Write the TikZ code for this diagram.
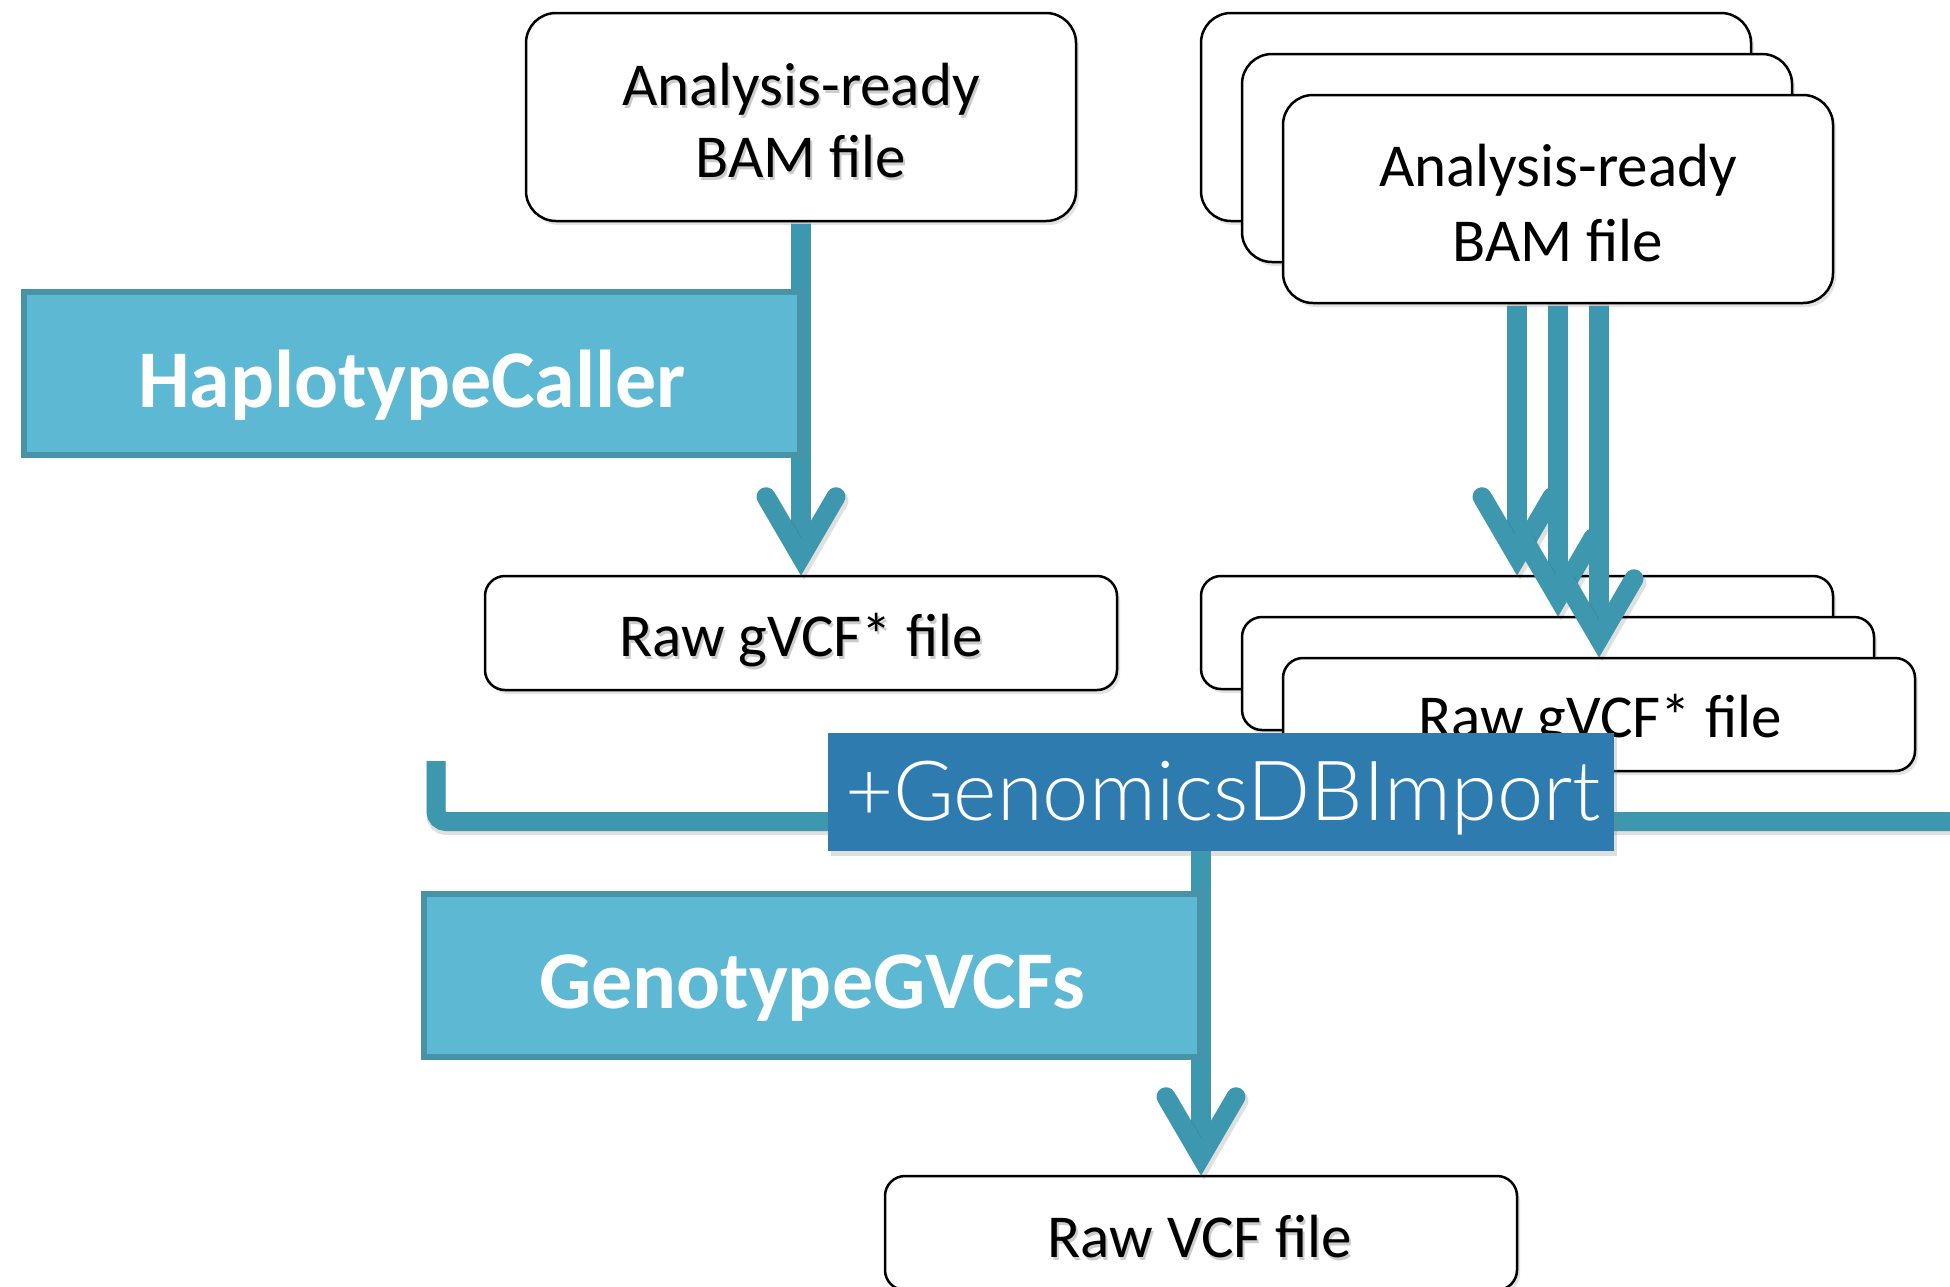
\documentclass[tikz,border=0pt]{standalone}
\usepackage{fontspec}
\setmainfont{Carlito}
\newfontfamily\gdbfont{Lato Light}
\usetikzlibrary{shadows,calc}
\definecolor{arrowc}{HTML}{3D97AE}
\definecolor{procfill}{HTML}{5CB8D3}
\definecolor{procline}{HTML}{4893A8}
\definecolor{gdbfill}{HTML}{2E7BB0}
\tikzset{
  filebox/.style={draw=black, line width=2.5pt, fill=white, rounded corners=#1, inner sep=0pt,
    drop shadow={opacity=0.22, shadow xshift=3pt, shadow yshift=-4pt}},
  filebox/.default=20pt,
  ftext/.style={font=\fontsize{61}{73}\selectfont, inner sep=0pt},
  procbox/.style={draw=procline, fill=procfill, line width=6pt, inner sep=0pt,
    minimum width=776pt, minimum height=163pt},
  proctext/.style={font=\bfseries\fontsize{82}{98}\selectfont, text=white, inner sep=0pt},
  shaft/.style={draw=arrowc, line width=20pt},
  shaftsh/.style={draw=black, line width=20pt, opacity=0.12, xshift=3pt, yshift=-4pt},
  headline/.style={draw=arrowc, line width=19pt, line cap=round, line join=miter},
  vhead/.pic={\draw[headline] (-35,-78) -- (0,-18) -- (35,-78);},
  vheadsh/.pic={\draw[headline, draw=black, opacity=0.12] (-32,-74) -- (3,-14) -- (38,-74);},
  bracket/.style={draw=arrowc, line width=19pt, rounded corners=10pt},
}
\newcommand\filetext[4]{%
  \node[ftext, anchor=base, text opacity=0.2] (#1s) at (#2+2,#3+3) {#4};
  \node[ftext, anchor=base] (#1) at (#2,#3) {#4};}
\begin{document}
\begin{tikzpicture}[x=1pt,y=-1pt]
\fill[white] (0,0) rectangle (1950,1286);
\useasboundingbox (0,0) rectangle (1950,1286);
\clip (0,0) rectangle (1950,1286);

% ---------- left column ----------
\node[filebox=30pt, minimum width=550pt, minimum height=208pt] (bamL) at (801,117) {};
\filetext{bamLa}{801}{105}{Analysis-ready}
\filetext{bamLb}{801}{177}{BAM file}
\node[filebox=20pt, minimum width=632pt, minimum height=114pt] (gvL) at (801,633) {};
\filetext{gvLt}{801}{656}{Raw gVCF* file}
\draw[shaftsh] (bamL.south) -- ($(gvL.north)+(0,-18)$);
\draw[shaft, shorten <=1.3pt] (bamL.south) -- ($(gvL.north)+(0,-18)$);
\node[procbox] (hc) at (412,373.5) {};
\node[proctext, anchor=base] (hct) at (412,407) {HaplotypeCaller};
\pic at ($(gvL.north)$) {vheadsh};
\pic at (gvL.north) {vhead};

% ---------- right stacks ----------
\node[filebox=30pt, minimum width=550pt, minimum height=208pt] (bamR1) at (1476,117) {};
\node[filebox=30pt, minimum width=550pt, minimum height=208pt] (bamR2) at (1517,158) {};
\node[filebox=30pt, minimum width=550pt, minimum height=208pt] (bamR3) at (1558,199) {};
\node[ftext, anchor=base] (bamRa) at (1558,186) {Analysis-ready};
\node[ftext, anchor=base] (bamRb) at (1558,261) {BAM file};

\node[filebox=20pt, minimum width=632pt, minimum height=113pt] (gv1) at (1517,632.5) {};
\node[filebox=20pt, minimum width=632pt, minimum height=113pt] (gv2) at (1558,673.5) {};
\node[filebox=20pt, minimum width=632pt, minimum height=113pt] (gv3) at (1599,714.5) {};
\node[ftext, anchor=base] (gv3t) at (1600,737) {Raw gVCF* file};

\foreach \g in {gv1,gv2,gv3}{
  \draw[shaftsh] (bamR3.south -| \g.north) -- ($(\g.north)+(0,-18)$);
  \draw[shaft, shorten <=1.3pt] (bamR3.south -| \g.north) -- ($(\g.north)+(0,-18)$);
  \pic at (\g.north) {vheadsh};
  \pic at (\g.north) {vhead};
}

% ---------- bracket and GenomicsDBImport ----------
\coordinate (brL) at (436,761);
\coordinate (brR) at (1960,767);
\draw[bracket, draw=black, opacity=0.12, xshift=3pt, yshift=-4pt] (brL) |- (1960,821.5) -- (brR);
\draw[bracket] (brL) |- (1960,821.5) -- (brR);

\node[filebox=20pt, minimum width=632pt, minimum height=114pt] (vcf) at (1201,1233) {};
\node[fill=gdbfill, inner sep=0pt, minimum width=786pt, minimum height=118pt,
  drop shadow={opacity=0.25, shadow xshift=3pt, shadow yshift=-5pt}] (gdb) at (1221,792) {};
\node[anchor=base, text=white, inner sep=0pt] (gdbt) at (1223,820)
  {\resizebox{756pt}{!}{\gdbfont\fontsize{80}{90}\selectfont +GenomicsDBImport}};

% ---------- bottom ----------
\draw[shaftsh] (gdb.south -| vcf.north) -- ($(vcf.north)+(0,-18)$);
\draw[shaft] (gdb.south -| vcf.north) -- ($(vcf.north)+(0,-18)$);
\node[procbox] (gg) at (812,975) {};
\node[proctext, anchor=base] (ggt) at (812,1008) {GenotypeGVCFs};
\filetext{vcft}{1200}{1257}{Raw VCF file}
\pic at (vcf.north) {vheadsh};
\pic at (vcf.north) {vhead};
\end{tikzpicture}
\end{document}
